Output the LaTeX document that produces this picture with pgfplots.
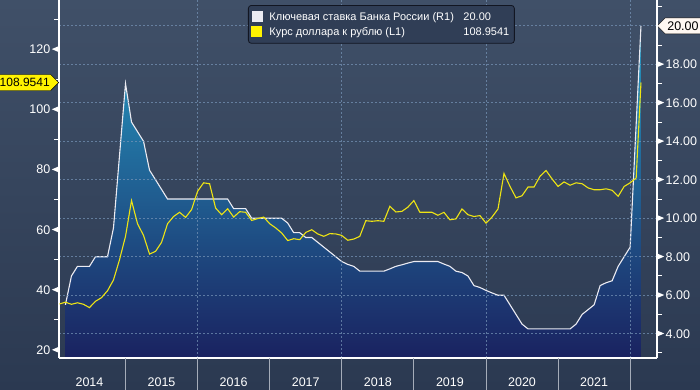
\documentclass[border=0pt]{standalone}
\usepackage{pgfplots}
\pgfplotsset{compat=1.18}
\usepackage{pgfplotstable}
\usetikzlibrary{shapes.symbols}
\usepackage{fontspec}
\setmainfont{Liberation Sans}

\definecolor{bgtop}{RGB}{64,80,104}
\definecolor{bgbot}{RGB}{43,57,81}
\definecolor{fillTop}{RGB}{38,155,195}
\definecolor{fillMid}{RGB}{30,88,140}
\definecolor{fillBot}{RGB}{26,34,96}
\definecolor{keyc}{RGB}{235,235,242}
\definecolor{usdc}{RGB}{238,228,20}
\definecolor{gridc}{RGB}{120,150,185}
\definecolor{sepc}{RGB}{165,172,185}
\definecolor{legfill}{RGB}{48,62,86}
\definecolor{legdraw}{RGB}{18,22,34}
\definecolor{tagwhite}{RGB}{255,248,242}

\newcommand{\ltri}{\tikz[baseline=-0.36em]\fill[white] (0,0) -- (7pt,3pt) -- (7pt,-3pt) -- cycle;}
\newcommand{\rtri}{\tikz[baseline=-0.36em]\fill[white] (0,3pt) -- (7pt,0) -- (0,-3pt) -- cycle;}
\newcommand{\tfont}{\fontsize{12.5}{14}\selectfont}

\pgfplotstableread{
t v
2 5.5
3 7.0
4 7.5
5 7.5
6 7.5
7 8.0
8 8.0
9 8.0
10 9.5
12 17.0
13 15.0
14 14.5
15 14.0
16 12.5
17 12.0
18 11.5
19 11.0
20 11.0
21 11.0
22 11.0
23 11.0
24 11.0
25 11.0
26 11.0
27 11.0
28 11.0
29 11.0
30 10.5
31 10.5
32 10.5
33 10.0
34 10.0
35 10.0
36 10.0
37 10.0
38 10.0
39 9.75
40 9.25
41 9.25
42 9.0
43 9.0
44 8.75
45 8.5
46 8.25
47 8.0
48 7.75
49 7.6
50 7.5
51 7.25
52 7.25
53 7.25
54 7.25
55 7.25
56 7.37
57 7.5
58 7.58
59 7.67
60 7.75
61 7.75
62 7.75
63 7.75
64 7.75
65 7.62
66 7.5
67 7.25
68 7.18
69 7.0
70 6.5
71 6.4
72 6.25
73 6.12
74 6.0
75 6.0
76 5.5
77 5.0
78 4.5
79 4.25
80 4.25
81 4.25
82 4.25
83 4.25
84 4.25
85 4.25
86 4.25
87 4.5
88 5.0
89 5.25
90 5.5
91 6.5
92 6.65
93 6.75
94 7.5
95 8.0
96 8.5
97.8 20.0
}\kr

\pgfplotstableread{
t v
1 35.3
2 35.9
3 35.2
4 35.7
5 35.2
6 34.1
7 36.2
8 37.4
9 39.7
10 43.3
11 50.0
12 57.8
13 69.7
14 62.0
15 58.1
16 51.9
17 52.8
18 55.8
19 62.0
20 64.4
21 65.8
22 64.1
23 66.7
24 72.8
25 75.6
26 75.3
27 67.2
28 65.0
29 67.0
30 64.2
31 66.0
32 65.8
33 63.1
34 63.7
35 64.2
36 62.0
37 60.6
38 58.9
39 56.4
40 57.0
41 56.7
42 59.1
43 60.0
44 58.6
45 57.8
46 58.7
47 58.6
48 58.1
49 56.5
50 56.9
51 57.8
52 63.0
53 62.8
54 63.0
55 62.8
56 67.8
57 65.9
58 66.1
59 67.5
60 69.7
61 65.8
62 65.8
63 65.8
64 64.8
65 65.8
66 63.3
67 63.6
68 66.9
69 65.0
70 64.4
71 64.7
72 62.2
73 64.2
74 66.9
75 78.7
76 74.4
77 70.6
78 71.3
79 74.2
80 74.2
81 77.8
82 79.7
83 76.9
84 74.4
85 75.9
86 74.8
87 75.6
88 75.3
89 73.9
90 73.3
91 73.3
92 73.6
93 73.1
94 71.1
95 74.4
96 75.6
97 77.2
97.8 108.9541
}\usd

\begin{document}
\begin{tikzpicture}
\shade[top color=bgtop, bottom color=bgbot] (0,0) rectangle (700pt,390pt);

% Right axis: key rate
\begin{axis}[
  at={(59pt,32pt)}, anchor=south west, scale only axis,
  width=598pt, height=358pt,
  xmin=0.93, xmax=100.47, ymin=2.737, ymax=21.344,
  axis y line*=right, axis x line*=bottom,
  axis line style={-, white, line width=1.2pt},
  xtick={24,48,72,96}, xticklabels={}, xmajorgrids,
  ytick={4,6,8,10,12,14,16,18,20},
  yticklabels={\rtri\hspace{1.5pt}4.00,\rtri\hspace{1.5pt}6.00,\rtri\hspace{1.5pt}8.00,\rtri\hspace{1.5pt}10.00,\rtri\hspace{1.5pt}12.00,\rtri\hspace{1.5pt}14.00,\rtri\hspace{1.5pt}16.00,\rtri\hspace{1.5pt}18.00,{}},
  minor ytick={3,5,...,21},
  ymajorgrids,
  grid style={gridc, opacity=0.7, dash pattern=on 2pt off 2pt, line width=0.8pt},
  tick align=outside, major tick length=0pt, minor tick length=5pt,
  tick style={white, line width=1pt},
  yticklabel style={inner sep=0pt, font=\tfont, text=white},
  axis on top, clip=false,
]
\addplot[top color=fillTop, middle color=fillMid, bottom color=fillBot, draw=none, forget plot]
  table[x=t,y=v] {\kr} |- (axis cs:2,2.737);
\addplot[keyc, line width=1.1pt, forget plot] table[x=t,y=v] {\kr};
\node[signal, signal to=west, fill=tagwhite, draw=black, text=black, font=\tfont,
      inner xsep=2pt, inner ysep=1pt, minimum height=16pt, anchor=west]
      at (axis cs:100.47,20) {20.00};
\end{axis}

% Left axis: USD/RUB
\begin{axis}[
  at={(59pt,32pt)}, anchor=south west, scale only axis,
  width=598pt, height=358pt,
  xmin=0.93, xmax=100.47, ymin=17.34, ymax=136.4,
  axis y line*=left, axis x line*=bottom,
  axis line style={-, white, line width=1.2pt},
  xtick={6,18,30,42,54,66,78,90},
  xticklabels={2014,2015,2016,2017,2018,2019,2020,2021},
  extra x ticks={12,24,36,48,60,72,84,96}, extra x tick labels={},
  extra x tick style={major tick length=32pt, tick style={sepc, line width=0.8pt}},
  ytick={20,40,60,80,100,120},
  yticklabels={20\hspace{1.5pt}\ltri,40\hspace{1.5pt}\ltri,60\hspace{1.5pt}\ltri,80\hspace{1.5pt}\ltri,100\hspace{1.5pt}\ltri,120\hspace{1.5pt}\ltri},
  minor ytick={30,50,...,130},
  tick align=outside, major tick length=0pt, minor tick length=5pt,
  tick style={white, line width=1pt},
  yticklabel style={inner sep=0pt, font=\tfont, text=white},
  xticklabel style={font=\tfont, text=white, yshift=-16pt},
  clip=false,
  legend style={at={(0.316,0.986)}, anchor=north west, fill=legfill, draw=legdraw,
    rounded corners=3pt, text=white, font=\fontsize{11}{12.5}\selectfont,
    inner xsep=3pt, inner ysep=6pt, row sep=4pt, line width=0.8pt,
    nodes={inner xsep=2pt, inner ysep=0.5pt}},
  legend cell align=left,
]
\addlegendimage{legend image code/.code={\fill[keyc, sharp corners] (5pt,-5pt) rectangle (15pt,5pt);}}
\addlegendentry{\hspace{5pt}\makebox[194pt][l]{Ключевая ставка Банка России (R1)}20.00}
\addplot[usdc, line width=1.1pt,
  legend image code/.code={\fill[yellow, sharp corners] (5pt,-5pt) rectangle (15pt,5pt);}]
  table[x=t,y=v] {\usd};
\addlegendentry{\hspace{5pt}\makebox[194pt][l]{Курс доллара к рублю (L1)}108.9541}
\node[signal, signal to=east, fill=yellow, draw=black, text=black, font=\fontsize{12}{14}\selectfont,
      inner xsep=1pt, inner ysep=1pt, minimum height=16pt, anchor=east]
      at (axis cs:0.93,108.9541) {108.9541};
\end{axis}
\pgfresetboundingbox
\useasboundingbox (0,0) rectangle (700pt,390pt);
\end{tikzpicture}
\end{document}
